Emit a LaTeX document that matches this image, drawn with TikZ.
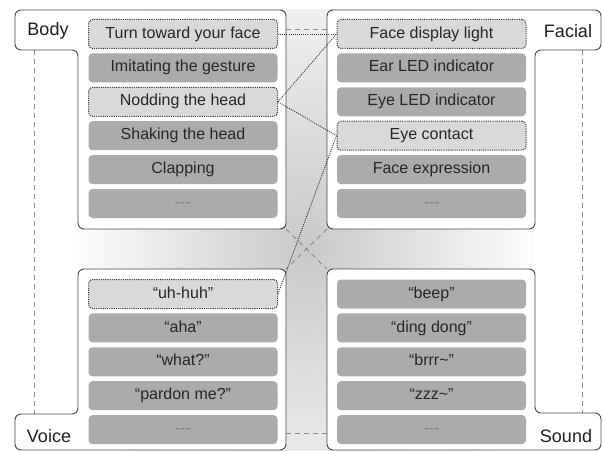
\documentclass[tikz,border=0pt]{standalone}
\usepackage{fontspec}
\setmainfont{Liberation Sans}
\begin{document}
\begin{tikzpicture}[x=1pt,y=-1pt,
  panel/.style={draw=black!72, line width=0.9pt, fill=white, rounded corners=6pt},
  item/.style={fill=black!33, rounded corners=4pt, minimum width=189pt, minimum height=29pt,
    inner sep=0pt, text=black!85, font=\fontsize{16}{18}\selectfont,
    text height=11.6pt, text depth=3.4pt},
  pick/.style={item, fill=black!15, draw=black!78, line width=1pt, dash pattern=on 1.1pt off 1.1pt},
  blank/.style={item, text=black!50},
  tag/.style={font=\fontsize{18}{20}\selectfont, text=black!88, inner sep=0pt},
  link/.style={draw=black!78, line width=0.9pt, dash pattern=on 1pt off 1.1pt},
  guide/.style={draw=black!45, line width=0.9pt, dash pattern=on 5pt off 4pt}]

\useasboundingbox (0,0) rectangle (603,452);

% soft grey glow behind the four panels, built from concentric ellipses
\begin{scope}
  \clip (78,10) rectangle (535,450);
  \foreach \i in {0,...,49} {
    \pgfmathsetmacro\rx{235*(1-\i/50)}
    \pgfmathsetmacro\ry{330*(1-\i/50)}
    \pgfmathsetmacro\tone{21*(\i+1)/50}
    \fill[black!\tone] (306,249) ellipse [x radius=\rx, y radius=\ry];
  }
\end{scope}

% anchor points on the panel outlines
\coordinate (bodyTab)   at (34,50);
\coordinate (voiceTab)  at (34,414);
\coordinate (facialTab) at (582,50);
\coordinate (soundTab)  at (582,413);
\coordinate (bodyR)     at (286,29);
\coordinate (facialL)   at (327,29);
\coordinate (voiceR)    at (286,433);
\coordinate (soundL)    at (327,433);
\coordinate (bodyC)     at (286,229);
\coordinate (facialC)   at (327,229);
\coordinate (voiceC)    at (286,269);
\coordinate (soundC)    at (327,269);

% dashed guides between panels
\draw[guide] (bodyTab) -- (voiceTab);
\draw[guide] (facialTab) -- (soundTab);
\draw[guide] (bodyR) -- (facialL);
\draw[guide] (voiceR) -- (soundL);
\draw[guide] (bodyC) -- (soundC);
\draw[guide] (facialC) -- (voiceC);

% panels with their tabs
\draw[panel] (78,229) -- (78,50) -- (15,50) -- (15,10) -- (286,10) -- (286,229) -- cycle;
\draw[panel] (535,229) -- (535,50) -- (601,50) -- (601,10) -- (327,10) -- (327,229) -- cycle;
\draw[panel] (78,269) -- (286,269) -- (286,450) -- (15,450) -- (15,414) -- (78,414) -- cycle;
\draw[panel] (327,269) -- (535,269) -- (535,413) -- (601,413) -- (601,450) -- (327,450) -- cycle;

% tab labels
\node[tag] (lbody)   at (48,31)  {Body};
\node[tag] (lfacial) at (568,31) {Facial};
\node[tag] (lvoice)  at (49,436) {Voice};
\node[tag] (lsound)  at (566,436) {Sound};

% Body items
\node[pick] (b1) at (183,34)    {Turn toward your face};
\node[item] (b2) at (183,67.9)  {Imitating the gesture};
\node[pick] (b3) at (183,101.8) {Nodding the head};
\node[item] (b4) at (183,135.7) {Shaking the head};
\node[item] (b5) at (183,169.6) {Clapping};
\node[blank] (b6) at (183,203.5) {-{}-{}-};

% Facial items
\node[pick] (f1) at (431.5,34)    {Face display light};
\node[item] (f2) at (431.5,67.9)  {Ear LED indicator};
\node[item] (f3) at (431.5,101.8) {Eye LED indicator};
\node[pick] (f4) at (431.5,135.7) {Eye contact};
\node[item] (f5) at (431.5,169.6) {Face expression};
\node[blank] (f6) at (431.5,203.5) {-{}-{}-};

% Voice items
\node[pick] (v1) at (183,294)    {“uh-huh”};
\node[item] (v2) at (183,327.9)  {“aha”};
\node[item] (v3) at (183,361.8)  {“what?”};
\node[item] (v4) at (183,395.7)  {“pardon me?”};
\node[blank] (v5) at (183,429.6) {-{}-{}-};

% Sound items
\node[item] (s1) at (431.5,294)   {“beep”};
\node[item] (s2) at (431.5,327.9) {“ding dong”};
\node[item] (s3) at (431.5,361.8) {“brrr\textasciitilde”};
\node[item] (s4) at (431.5,395.7) {“zzz\textasciitilde”};
\node[blank] (s5) at (431.5,429.6) {-{}-{}-};

% dotted links between chosen items
\draw[link] (b1.east) -- (f1.west);
\draw[link] (b3.east) -- (f1.west);
\draw[link] (b3.east) -- (f4.west);
\draw[link] (v1.east) -- (f4.west);
\end{tikzpicture}
\end{document}
